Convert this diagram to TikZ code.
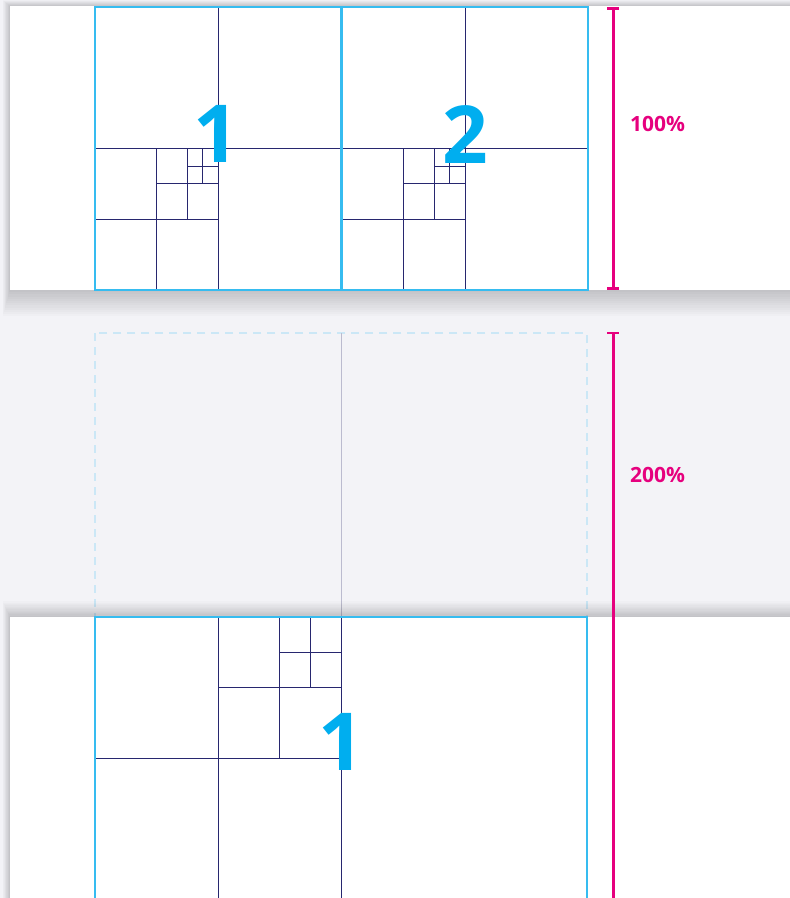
\documentclass[tikz,border=0pt]{standalone}
\usepackage{fontspec}
\setmainfont{Open Sans}
\usetikzlibrary{arrows.meta}
\definecolor{bggrey}{HTML}{F3F3F7}
\definecolor{navyline}{HTML}{27276F}
\definecolor{cyanbox}{HTML}{36BCF0}
\definecolor{cyandigit}{HTML}{00AEEF}
\definecolor{magentabar}{HTML}{E6007E}
\definecolor{dashblue}{HTML}{CBE7F6}
\definecolor{greyline}{HTML}{BBBBCF}
\begin{document}
\begin{tikzpicture}[x=1pt,y=-1pt,
  gridline/.style={draw=navyline,line width=1pt},
  texbox/.style={draw=cyanbox,line width=1.5pt},
  dimbar/.style={draw=magentabar,line width=3pt,{Bar[width=12pt]}-{Bar[width=12pt]}},
  bignum/.style={text=cyandigit,font=\bfseries\fontsize{80}{80}\selectfont,anchor=base,inner sep=0pt},
  dimlabel/.style={text=magentabar,font=\bfseries\fontsize{21}{21}\selectfont,anchor=west,inner sep=0pt}]
\useasboundingbox (0,0) rectangle (790,898);
\fill[bggrey] (0,0) rectangle (790,898);
% top panel with shadow
\foreach \r in {1,...,12} {
  \fill[black,opacity=0.016] (10-\r*0.6,6-\r*0.5) rectangle (800,290+\r*2.2);
}
\fill[white] (10,6) rectangle (800,290);
% hidden part of the 200% view
\draw[dashblue,line width=1.5pt,dash pattern=on 8pt off 6pt] (95,333) rectangle (587,617);
\draw[greyline,line width=1pt] (341,333) -- (341,617);
% bottom panel with shadow
\foreach \r in {1,...,12} {
  \fill[black,opacity=0.016] (10-\r*0.6,617-\r*1.3) rectangle (800,900);
}
\fill[white] (10,617) rectangle (800,900);
% textures 1 and 2 at 100%
\foreach \ox in {95,342} {
  \draw[gridline] (\ox+123,7) -- (\ox+123,290);
  \draw[gridline] (\ox,148.5) -- (\ox+246,148.5);
  \draw[gridline] (\ox+61.5,148.5) -- (\ox+61.5,290);
  \draw[gridline] (\ox,219) -- (\ox+123,219);
  \draw[gridline] (\ox+92.25,148.5) -- (\ox+92.25,219);
  \draw[gridline] (\ox+61.5,183.75) -- (\ox+123,183.75);
  \draw[gridline] (\ox+107.6,148.5) -- (\ox+107.6,183.75);
  \draw[gridline] (\ox+92.25,166.1) -- (\ox+123,166.1);
  \draw[texbox] (\ox,7) rectangle (\ox+246,290);
}
\node[bignum] (numone) at (216,162) {1};
\node[bignum] (numtwo) at (465,163) {2};
% texture 1 at 200%
\draw[gridline] (341,617) -- (341,905);
\draw[gridline] (218,617) -- (218,905);
\draw[gridline] (95,758.5) -- (341,758.5);
\draw[gridline] (279.5,617) -- (279.5,758.5);
\draw[gridline] (218,687.75) -- (341,687.75);
\draw[gridline] (310.25,617) -- (310.25,687.75);
\draw[gridline] (279.5,652.1) -- (341,652.1);
\draw[texbox] (95,905) -- (95,617) -- (587,617) -- (587,905);
\node[bignum] (numonebig) at (341,770) {1};
% scale bars
\coordinate (bartop) at (613,7);
\coordinate (barmid) at (613,290);
\coordinate (barlow) at (613,333);
\coordinate (barend) at (613,905);
\draw[dimbar] (bartop) -- (barmid);
\draw[dimbar,-] (barlow) -- (barend);
\draw[magentabar,line width=2.5pt] ([xshift=-6pt]barlow) -- ([xshift=6pt]barlow);
\node[dimlabel] (lblfull) at (630,124) {100\%};
\node[dimlabel] (lbldouble) at (630,475) {200\%};
\end{tikzpicture}
\end{document}
